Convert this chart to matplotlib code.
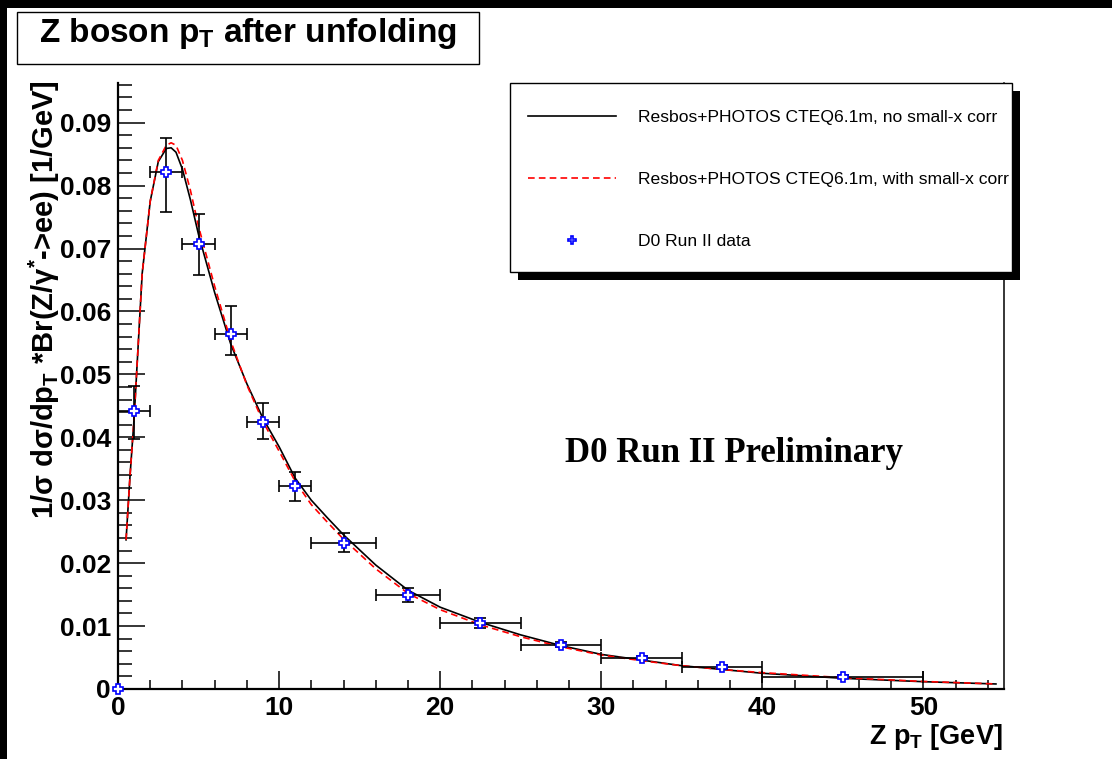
import matplotlib
matplotlib.use('Agg')
import matplotlib.pyplot as plt
from matplotlib.patches import Rectangle
from matplotlib.ticker import FixedLocator
import numpy as np

# data
pt_data = [0.0, 1.0, 3.0, 5.0, 7.0, 9.0, 11.0, 14.0, 18.0, 22.5, 27.5, 32.5, 37.5, 45.0]
pt_halfwidth = [0.0, 1.0, 1.0, 1.0, 1.0, 1.0, 1.0, 2.0, 2.0, 2.5, 2.5, 2.5, 2.5, 5.0]
xsec_data = [0.0, 0.0442, 0.0822, 0.0707, 0.0564, 0.0424, 0.0322, 0.0232, 0.0149, 0.0105, 0.0070, 0.0050, 0.00355, 0.00196]
err_low = [0.0, 0.0045, 0.0064, 0.0049, 0.0033, 0.0027, 0.0023, 0.0015, 0.0010, 0.0008, 0.0004, 0.0003, 0.0003, 0.0002]
err_high = [0.0, 0.0039, 0.0053, 0.0048, 0.0045, 0.0030, 0.0023, 0.0016, 0.0011, 0.0008, 0.0004, 0.0003, 0.0003, 0.0002]

pt_curve = [0.5, 0.75, 1.0, 1.5, 2.0, 2.5, 3.0, 3.3, 3.6, 4.0, 4.5, 5.0, 6.0, 7.0, 8.0, 9.0, 10.0,
            11.0, 12.0, 13.0, 14.0, 16.0, 18.0, 20.0, 22.5, 25.0, 27.5, 30.0, 32.5, 35.0, 37.5,
            40.0, 45.0, 50.0, 54.5]
resbos_nocorr = [0.0237, 0.0340, 0.0430, 0.0660, 0.0775, 0.0838, 0.0859, 0.0860, 0.0853, 0.0826, 0.0777,
                 0.0722, 0.0630, 0.0548, 0.0485, 0.0430, 0.0385, 0.0335, 0.0300, 0.0272, 0.0245, 0.0197,
                 0.0157, 0.0130, 0.0106, 0.0086, 0.0069, 0.0055, 0.0046, 0.0037, 0.0031, 0.0025,
                 0.0017, 0.00116, 0.0008]
resbos_corr = [0.0237, 0.0340, 0.0430, 0.0660, 0.0775, 0.0840, 0.0864, 0.0868, 0.0864, 0.0840, 0.0792,
               0.0735, 0.0640, 0.0553, 0.0483, 0.0425, 0.0378, 0.0330, 0.0293, 0.0265, 0.0238, 0.0191,
               0.0152, 0.0126, 0.0102, 0.0083, 0.0067, 0.0054, 0.0045, 0.0037, 0.0031, 0.0026,
               0.0018, 0.0012, 0.0008]

xticks_major = [0, 10, 20, 30, 40, 50]
yticks_major = [0, 0.01, 0.02, 0.03, 0.04, 0.05, 0.06, 0.07, 0.08, 0.09]
ytick_labels = ['0', '0.01', '0.02', '0.03', '0.04', '0.05', '0.06', '0.07', '0.08', '0.09']
leg_labels = ['Resbos+PHOTOS CTEQ6.1m, no small-x corr',
              'Resbos+PHOTOS CTEQ6.1m, with small-x corr',
              'D0 Run II data']

plt.rcParams['font.family'] = ['Liberation Sans', 'DejaVu Sans']
plt.rcParams['mathtext.fontset'] = 'custom'
plt.rcParams['mathtext.rm'] = 'Liberation Sans:bold'
plt.rcParams['mathtext.it'] = 'Liberation Sans:bold'
plt.rcParams['mathtext.bf'] = 'Liberation Sans:bold'

W, H = 1112, 759
fig = plt.figure(figsize=(W / 100, H / 100), dpi=100)
ax = fig.add_axes([118 / W, 1 - 689 / H, (1004 - 118) / W, (689 - 83) / H])

def fx(px):
    return px / W

def fy(py):
    return 1 - py / H

l1, = ax.plot(pt_curve, resbos_nocorr, color='black', lw=1.2, zorder=3)
l2, = ax.plot(pt_curve, resbos_corr, color='red', lw=1.2, dashes=(4, 2.5), zorder=3)
eb = ax.errorbar(pt_data, xsec_data, xerr=pt_halfwidth, yerr=[err_low, err_high],
                 fmt='P', color='black', ecolor='black', elinewidth=1.2, capsize=4, capthick=1.2,
                 mfc='white', mec='blue', mew=1.2, ms=6.5, zorder=4)
eb.lines[0].set_clip_on(False)

ax.set_xlim(0, 55)
ax.set_ylim(0, 0.0963)
ax.xaxis.set_major_locator(FixedLocator(xticks_major))
ax.xaxis.set_minor_locator(FixedLocator(np.arange(0, 55, 2)))
ax.yaxis.set_major_locator(FixedLocator(yticks_major))
ax.yaxis.set_minor_locator(FixedLocator(np.arange(0, 0.0963, 0.002)))
ax.set_yticklabels(ytick_labels)
ax.tick_params(axis='both', which='both', direction='in', width=1.1, labelsize=19)
ax.tick_params(axis='y', which='major', length=19.5, pad=5)
ax.tick_params(axis='y', which='minor', length=10)
ax.tick_params(axis='x', which='major', length=13, pad=5)
ax.tick_params(axis='x', which='minor', length=6.5)
for lab in ax.get_xticklabels() + ax.get_yticklabels():
    lab.set_fontweight('bold')
ax.spines['top'].set_visible(False)
ax.spines['left'].set_linewidth(1.6)
ax.spines['bottom'].set_linewidth(1.6)
ax.spines['right'].set_linewidth(1.1)

fig.text(fx(1003), fy(744), r'Z p$_{T}$ [GeV]', ha='right', va='baseline',
         fontsize=19.5, fontweight='bold')
fig.text(fx(44), fy(80), r'1/σ dσ/dp$_{T}$ *Br(Z/γ$^{*}$->ee) [1/GeV]', rotation=90,
         ha='center', va='top', fontsize=21, fontweight='bold')

# title box
fig.patches.append(Rectangle((fx(17), fy(64)), (479 - 17) / W, (64 - 12) / H, transform=fig.transFigure,
                             facecolor='white', edgecolor='black', lw=1.0))
fig.text(fx(248), fy(42), r'Z boson p$_{T}$ after unfolding', ha='center', va='baseline',
         fontsize=24, fontweight='bold')

# legend box with ROOT-style shadow
fig.patches.append(Rectangle((fx(518), fy(280)), (1020 - 518) / W, (280 - 91) / H, transform=fig.transFigure,
                             facecolor='black', edgecolor='black', lw=0, zorder=5))
fig.patches.append(Rectangle((fx(510), fy(272)), (1012 - 510) / W, (272 - 83) / H, transform=fig.transFigure,
                             facecolor='white', edgecolor='black', lw=1.0, zorder=6))
data_handle = plt.Line2D([], [], ls='none', marker='P', mfc='white', mec='blue', mew=1.2, ms=6)
leg = fig.legend([l1, l2, data_handle], leg_labels, loc='center left',
                 bbox_to_anchor=(fx(528), fy(179.5)), frameon=False, fontsize=12.6,
                 handlelength=5.0, handletextpad=1.3, labelspacing=2.66, borderpad=0, borderaxespad=0)
leg.set_zorder(7)

# black strips of the canvas edge
fig.patches.append(Rectangle((0, fy(8)), 1, 8 / H, transform=fig.transFigure, facecolor='black', lw=0))
fig.patches.append(Rectangle((0, 0), 7 / W, 1, transform=fig.transFigure, facecolor='black', lw=0))

fig.text(fx(565), fy(462), 'D0 Run II Preliminary', ha='left', va='baseline',
         fontsize=25, fontweight='bold', family=['Liberation Serif', 'DejaVu Serif'])

plt.savefig('out.png', dpi=100)
